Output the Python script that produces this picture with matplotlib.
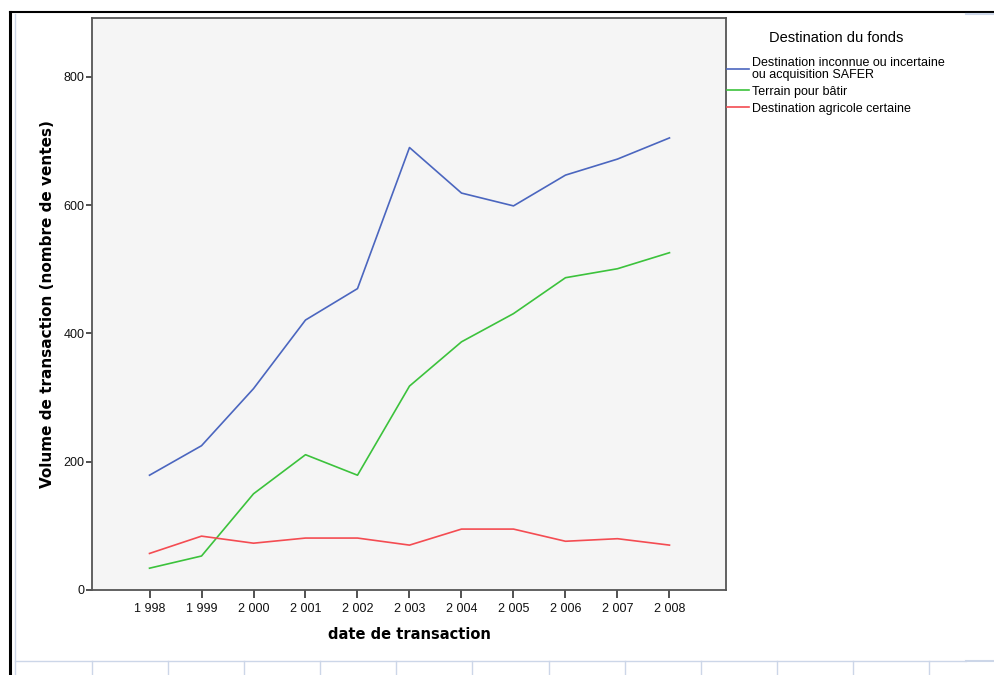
import matplotlib
matplotlib.use("Agg")
import matplotlib.pyplot as plt
from matplotlib.lines import Line2D

# ----------------------------
# Data
# ----------------------------
years = [1998, 1999, 2000, 2001, 2002, 2003, 2004, 2005, 2006, 2007, 2008]
year_labels = ["1 998", "1 999", "2 000", "2 001", "2 002", "2 003",
               "2 004", "2 005", "2 006", "2 007", "2 008"]

inconnue = [179, 225, 314, 421, 470, 690, 619, 599, 647, 672, 705]
terrain = [34, 53, 150, 211, 179, 318, 387, 431, 487, 501, 526]
agricole = [57, 84, 73, 81, 81, 70, 95, 95, 76, 80, 70]

series_labels = ["Destination inconnue ou incertaine\nou acquisition SAFER",
                 "Terrain pour bâtir",
                 "Destination agricole certaine"]
y_ticks = [0, 200, 400, 600, 800]

# ----------------------------
# Figure layout (pixel based)
# ----------------------------
W, H = 995, 675
fig = plt.figure(figsize=(W / 100, H / 100), dpi=100)


def fx(px):
    return px / W


def fy(py):
    return 1 - py / H


ax = fig.add_axes([fx(92), fy(590), fx(726) - fx(92), fy(18) - fy(590)])
ax.set_facecolor("#f5f5f5")

colors = ["#4b66bf", "#3cc23c", "#f44c52"]
for vals, col, lab in zip([inconnue, terrain, agricole], colors, series_labels):
    ax.plot(years, vals, color=col, linewidth=1.2, label=lab)

ax.set_xlim(1996.894, 2009.087)
ax.set_ylim(0, 892)
ax.set_xticks(years)
ax.set_xticklabels(year_labels)
ax.set_yticks(y_ticks)

for s in ax.spines.values():
    s.set_color("#555555")
    s.set_linewidth(1.3)
ax.tick_params(axis="both", direction="out", length=5.5, width=1.2,
               color="#333333", labelsize=9, labelcolor="#111111", pad=3)
ax.tick_params(axis="x", pad=3.5)
ax.tick_params(axis="y", length=4.5, pad=1)
for lbl in ax.get_xticklabels() + ax.get_yticklabels():
    lbl.set_fontfamily("Liberation Sans")

ax.set_xlabel("date de transaction", fontsize=10.5, fontweight="bold", labelpad=9)
ax.set_ylabel("Volume de transaction (nombre de ventes)", fontsize=11,
              fontweight="bold", labelpad=6)

leg = ax.legend(loc="upper left", bbox_to_anchor=(fx(727), fy(31)),
                bbox_transform=fig.transFigure, frameon=False,
                title="Destination du fonds", handlelength=1.75,
                handletextpad=0.25, labelspacing=0.4, borderpad=0,
                borderaxespad=0,
                prop={"family": "Liberation Sans", "size": 9})
leg.get_title().set_fontfamily("Liberation Sans")
leg.get_title().set_fontsize(10.5)
leg._legend_box.sep = 9
for t in leg.get_texts():
    t.set_linespacing(0.9)

# ----------------------------
# Window frame decorations
# ----------------------------
light = "#ccd6e8"
fig.add_artist(Line2D([fx(10), fx(10)], [fy(12), 0], color="black", lw=2.2))
fig.add_artist(Line2D([fx(10), 1], [fy(12), fy(12)], color="black", lw=1.5))
fig.add_artist(Line2D([fx(15), fx(15)], [fy(14), 0], color=light, lw=1.0))
fig.add_artist(Line2D([fx(966), 1], [fy(14), fy(14)], color=light, lw=1.5))
fig.add_artist(Line2D([fx(15), fx(966)], [fy(661), fy(661)], color=light, lw=1.0))
fig.add_artist(Line2D([fx(966), fx(995)], [fy(660.5), fy(660.5)], color=light, lw=1.5))
for k in range(12):
    x = 92 + 76.1 * k
    fig.add_artist(Line2D([fx(x), fx(x)], [fy(661), 0], color=light, lw=1.0))

fig.savefig("out.png", dpi=100)
